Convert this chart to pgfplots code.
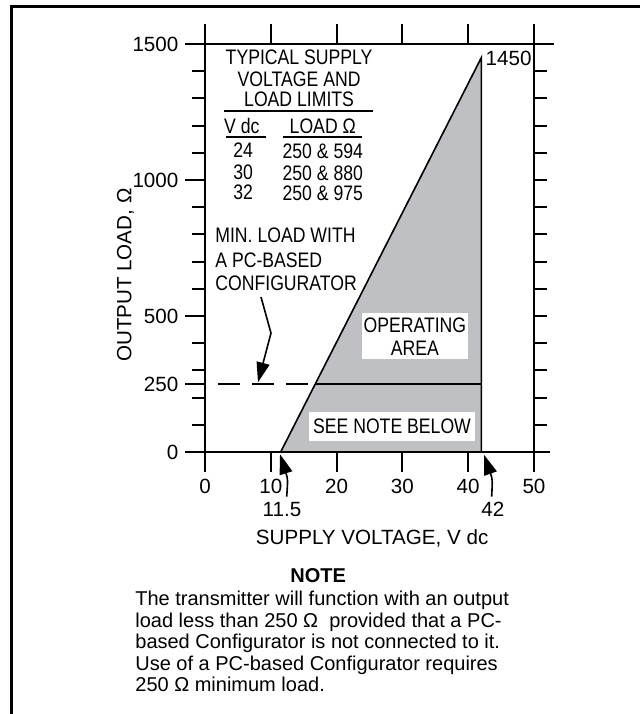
\documentclass[border=0pt]{standalone}
\usepackage{fontspec}
\setmainfont{Liberation Sans}
\newfontfamily\cond[FakeStretch=0.84]{Liberation Sans}
\usepackage{pgfplots}
\pgfplotsset{compat=1.18}
\usetikzlibrary{arrows.meta}
\definecolor{areagray}{RGB}{191,192,196}
\begin{document}
\begin{tikzpicture}[font=\fontsize{10}{12}\selectfont,
  ann/.style={inner sep=0pt, text height=7.3pt, text depth=0pt, font=\fontsize{10.3}{12}\selectfont},
  cann/.style={inner sep=0pt, text height=7.5pt, text depth=0pt, font=\fontsize{10.5}{12}\selectfont\cond},
  arr/.style={line width=0.8pt, -{Triangle[length=10pt,width=6.5pt]}}]
\useasboundingbox (-102.5pt,-131pt) rectangle (217pt,226pt);
\draw[line width=1.5pt] (-96.5pt,-132pt) -- (-96.5pt,223pt) -- (218pt,223pt);
\begin{axis}[at={(0,0)}, anchor=south west, scale only axis,
  width=164.5pt, height=204pt,
  xmin=0, xmax=50, ymin=0, ymax=1500, clip=false,
  axis line style={draw=none},
  tick align=outside,
  xtick={0,10,...,50}, xtick pos=both, xticklabel pos=lower,
  ytick={0,250,500,1000,1500}, ytick pos=left,
  minor ytick={100,200,300,400,600,700,800,900,1100,1200,1300,1400},
  major tick length=9.8pt, minor tick length=6.5pt,
  every tick/.style={line width=1pt, black},
  /pgf/number format/assume math mode=true,
  /pgf/number format/1000 sep={},
  tick label style={font=\fontsize{10.3}{12}\selectfont},
]
% operating area
\addplot[fill=areagray, draw=none] coordinates {(11.5,0) (42,1450) (42,0) (11.5,0)};
\addplot[black, line width=0.8pt] coordinates {(11.5,0) (42,1450) (42,0)};
\addplot[black, line width=0.8pt] coordinates {(16.76,250) (42,250)};
\addplot[black, line width=0.8pt, dash pattern=on 11pt off 6pt] coordinates {(2,250) (16.76,250)};
% extended frame lines
\draw[line width=1pt] (axis cs:-3.04,0) -- (axis cs:52.5,0);
\draw[line width=1pt] (axis cs:-3.04,1500) -- (axis cs:53,1500);
\draw[line width=1pt] (axis cs:0,-66) -- (axis cs:0,1570);
\draw[line width=1pt] (axis cs:50,-66) -- (axis cs:50,1570);
% table
\node[cann] at (axis cs:14.3,1452) {TYPICAL SUPPLY};
\node[cann] at (axis cs:14.3,1371) {VOLTAGE AND};
\node[cann] at (axis cs:14.3,1298) {LOAD LIMITS};
\draw[line width=0.9pt] (axis cs:2.9,1254) -- (axis cs:25.5,1254);
\node[cann] at (axis cs:5.6,1199) {V dc};
\node[cann] at (axis cs:17.9,1199) {LOAD Ω};
\draw[line width=0.9pt] (axis cs:3.2,1158) -- (axis cs:9.3,1158);
\draw[line width=0.9pt] (axis cs:11.9,1158) -- (axis cs:23.9,1158);
\node[cann] at (axis cs:5.8,1110) {24};
\node[cann] at (axis cs:5.8,1030) {30};
\node[cann] at (axis cs:5.8,955) {32};
\node[cann] at (axis cs:17.9,1107) {250 \& 594};
\node[cann] at (axis cs:17.9,1026) {250 \& 880};
\node[cann] at (axis cs:17.9,952) {250 \& 975};
% min load label
\node[cann, anchor=west] at (axis cs:1.52,798) {MIN. LOAD WITH};
\node[cann, anchor=west] at (axis cs:1.52,706) {A PC-BASED};
\node[cann, anchor=west] at (axis cs:1.52,621) {CONFIGURATOR};
\draw[arr] (axis cs:8.51,570) -- (axis cs:10.03,437) -- (axis cs:8.05,256);
% boxes
\node[fill=white, minimum width=53pt, minimum height=23pt, inner sep=0pt] at (axis cs:31.9,426) {};
\node[cann] at (axis cs:31.9,467) {OPERATING};
\node[cann] at (axis cs:31.9,382) {AREA};
\node[fill=white, minimum width=83pt, minimum height=14.5pt, inner sep=0pt] at (axis cs:28.42,94) {};
\node[cann] at (axis cs:28.42,94) {SEE NOTE BELOW};
\node[ann, anchor=west] at (axis cs:42.6,1448) {1450};
% bottom arrows
\draw[arr] (axis cs:12.42,-164) .. controls (axis cs:12.6,-100) .. (axis cs:11.4,-8);
\draw[arr] (axis cs:43.57,-164) .. controls (axis cs:43.7,-100) .. (axis cs:42.4,-10);
\node[ann] at (axis cs:11.7,-211) {11.5};
\node[ann] at (axis cs:43.74,-211) {42};
% axis labels
\node[ann] at (axis cs:25.4,-312) {SUPPLY VOLTAGE, V dc};
\node[ann, rotate=90] at (axis cs:-12.3,650) {OUTPUT LOAD, Ω};
% note
\node[inner sep=0pt, anchor=base, font=\fontsize{10}{12}\selectfont\bfseries] at (axis cs:17.2,-478) {NOTE};
\node[inner sep=0pt, anchor=base west] at (axis cs:-10.64,-566) {The transmitter will function with an output};
\node[inner sep=0pt, anchor=base west] at (axis cs:-10.64,-646) {load less than 250 Ω\ \ provided that a PC-};
\node[inner sep=0pt, anchor=base west] at (axis cs:-10.64,-724) {based Configurator is not connected to it.};
\node[inner sep=0pt, anchor=base west] at (axis cs:-10.64,-804) {Use of a PC-based Configurator requires};
\node[inner sep=0pt, anchor=base west] at (axis cs:-10.64,-882) {250 Ω minimum load.};
\end{axis}
\begin{axis}[at={(0,0)}, anchor=south west, scale only axis,
  width=164.5pt, height=204pt,
  xmin=0, xmax=50, ymin=0, ymax=1500,
  axis line style={draw=none}, hide x axis,
  axis y line*=right, tick align=outside,
  ytick={0,100,...,1500}, yticklabels={},
  major tick length=6.5pt,
  every tick/.style={line width=1pt, black},
]
\addplot[draw=none] coordinates {(0,0) (50,1500)};
\end{axis}
\end{tikzpicture}
\end{document}
